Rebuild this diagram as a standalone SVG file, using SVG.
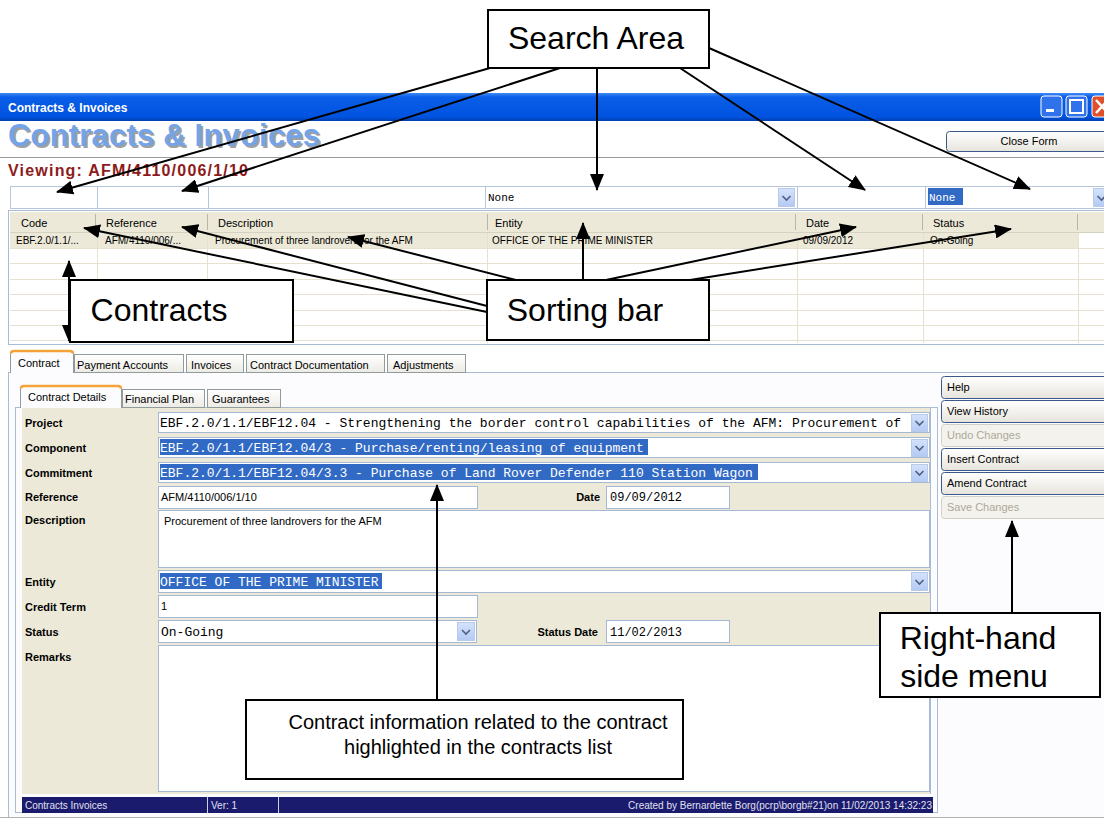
<svg xmlns="http://www.w3.org/2000/svg" width="1104" height="822" viewBox="0 0 1104 822">
<defs>
<linearGradient id="gTitle" x1="0" y1="0" x2="0" y2="1">
<stop offset="0" stop-color="#3d8af7"/><stop offset="0.15" stop-color="#0a5de6"/><stop offset="0.85" stop-color="#0053e0"/><stop offset="1" stop-color="#0040b0"/>
</linearGradient>
<linearGradient id="gBtn" x1="0" y1="0" x2="0" y2="1">
<stop offset="0" stop-color="#ffffff"/><stop offset="1" stop-color="#e6e4dc"/>
</linearGradient>
<linearGradient id="gTab" x1="0" y1="0" x2="0" y2="1">
<stop offset="0" stop-color="#ffffff"/><stop offset="1" stop-color="#ecebe5"/>
</linearGradient>
<linearGradient id="gDd" x1="0" y1="0" x2="0" y2="1">
<stop offset="0" stop-color="#d4e2fb"/><stop offset="1" stop-color="#b4caf4"/>
</linearGradient>
<marker id="ah" markerUnits="userSpaceOnUse" markerWidth="18" markerHeight="14" refX="16" refY="7" orient="auto">
<path d="M0,0 L17,7 L0,14 Z" fill="#000"/>
</marker>
<marker id="ahs" markerUnits="userSpaceOnUse" markerWidth="18" markerHeight="14" refX="1" refY="7" orient="auto">
<path d="M17,0 L0,7 L17,14 Z" fill="#000"/>
</marker>
</defs>
<style>
.ui{font-family:"Liberation Sans",Arial,sans-serif;font-size:11px;fill:#000}
.uib{font-family:"Liberation Sans",Arial,sans-serif;font-size:11px;font-weight:bold;fill:#000}
.mono{font-family:"Liberation Mono","Courier New",monospace;font-size:13px;fill:#000}
.monos{font-family:"Liberation Mono","Courier New",monospace;font-size:11px;fill:#000}
.sel{fill:#316ac5}
.selt{fill:#fff}
.inp{fill:#fff;stroke:#a5b8d4;stroke-width:1}
.dd{fill:url(#gDd);stroke:#b8cae8;stroke-width:1}
.chev{fill:none;stroke:#4d6185;stroke-width:1.6}
.tab{fill:url(#gTab);stroke:#919b9c;stroke-width:1}
.grid{stroke:#e6e2cf;stroke-width:1}
.hdrsep{stroke:#b9b6a8;stroke-width:1}
.mbtn{fill:url(#gBtn);stroke:#3a5a8c;stroke-width:1}
.mbtnd{fill:#f3f2ec;stroke:#d2d0c6;stroke-width:1}
.dis{font-family:"Liberation Sans",Arial,sans-serif;font-size:11px;fill:#aca899}
.sb{font-family:"Liberation Sans",Arial,sans-serif;font-size:10px;fill:#e0e0f0}
.cbox{fill:#fff;stroke:#000;stroke-width:2}
.ctext{font-family:"Liberation Sans",Arial,sans-serif;font-size:32px;fill:#000}
.ctext2{font-family:"Liberation Sans",Arial,sans-serif;font-size:20px;fill:#000}
.conn{stroke:#000;stroke-width:2;fill:none}
</style>

<rect x="0" y="0" width="1104" height="822" fill="#fff"/>

<g id="window">
<rect x="0" y="93" width="1104" height="28" fill="url(#gTitle)"/>
<text x="8" y="112" style="font-family:'Liberation Sans',Arial,sans-serif;font-size:12px;font-weight:bold;fill:#fff">Contracts &amp; Invoices</text>
<rect x="1041" y="96" width="21" height="21" rx="3" fill="#2f72ec" stroke="#fff" stroke-width="1"/>
<rect x="1046" y="109" width="8" height="3" fill="#fff"/>
<rect x="1066" y="96" width="21" height="21" rx="3" fill="#2f72ec" stroke="#fff" stroke-width="1"/>
<rect x="1070" y="100" width="13" height="13" fill="none" stroke="#fff" stroke-width="2"/>
<rect x="1092" y="96" width="21" height="21" rx="3" fill="#e0502a" stroke="#fff" stroke-width="1"/>
<path d="M1096,100 L1108,113 M1108,100 L1096,113" stroke="#fff" stroke-width="2.5"/>

<text x="10" y="148" style="font-family:'Liberation Sans',Arial,sans-serif;font-size:31px;font-weight:bold;fill:#a0a0a0" textLength="312">Contracts &amp; Invoices</text>
<text x="8" y="146" style="font-family:'Liberation Sans',Arial,sans-serif;font-size:31px;font-weight:bold;fill:#74a3e8" textLength="312">Contracts &amp; Invoices</text>
<rect x="946.5" y="131.5" width="170" height="20" rx="3" class="mbtn"/>
<text x="1029" y="145" class="ui" text-anchor="middle">Close Form</text>
<line x1="0" y1="157.5" x2="1104" y2="157.5" stroke="#9a9a9a" stroke-width="1.2"/>
<text x="8" y="176" style="font-family:'Liberation Sans',Arial,sans-serif;font-size:16px;font-weight:bold;fill:#8e1b1b" textLength="240">Viewing: AFM/4110/006/1/10</text>
</g>

<g id="search-row">
<rect x="10.5" y="186.5" width="1100" height="22" fill="#fff" stroke="#b7c5d8"/>
<line x1="97.5" y1="186" x2="97.5" y2="209" stroke="#b7c5d8"/>
<line x1="208.5" y1="186" x2="208.5" y2="209" stroke="#b7c5d8"/>
<line x1="485.5" y1="186" x2="485.5" y2="209" stroke="#b7c5d8"/>
<line x1="797.5" y1="186" x2="797.5" y2="209" stroke="#b7c5d8"/>
<line x1="925.5" y1="186" x2="925.5" y2="209" stroke="#b7c5d8"/>
<text x="488" y="201" class="monos">None</text>
<rect x="778.5" y="188.5" width="16" height="18" class="dd"/>
<path d="M782.5,196 L786.5,200 L790.5,196" class="chev"/>
<rect x="928" y="188" width="35" height="17" class="sel"/>
<text x="929" y="201" class="monos selt">None</text>
<rect x="1093.5" y="188.5" width="16" height="18" class="dd"/>
<path d="M1097.5,196 L1101.5,200 L1105.5,196" class="chev"/>
</g>

<g id="contracts-grid">
<rect x="8.5" y="210.5" width="1100" height="134" fill="#fff" stroke="#a9bcd6"/>
<rect x="10" y="212" width="1094" height="20" fill="#ece9d8"/>
<rect x="10" y="233" width="1068" height="15" fill="#ece9d8"/>
<line x1="10" y1="232.5" x2="1104" y2="232.5" stroke="#d6d2c2"/>
<g class="grid">
<line x1="10" y1="248.5" x2="1104" y2="248.5"/>
<line x1="10" y1="263.5" x2="1104" y2="263.5"/>
<line x1="10" y1="279.5" x2="1104" y2="279.5"/>
<line x1="10" y1="294.5" x2="1104" y2="294.5"/>
<line x1="10" y1="310.5" x2="1104" y2="310.5"/>
<line x1="10" y1="325.5" x2="1104" y2="325.5"/>
<line x1="10" y1="340.5" x2="1104" y2="340.5"/>
<line x1="97.5" y1="233" x2="97.5" y2="343"/>
<line x1="207.5" y1="233" x2="207.5" y2="343"/>
<line x1="487.5" y1="233" x2="487.5" y2="343"/>
<line x1="797.5" y1="233" x2="797.5" y2="343"/>
<line x1="923.5" y1="233" x2="923.5" y2="343"/>
<line x1="1078.5" y1="233" x2="1078.5" y2="343"/>
</g>
<g class="hdrsep">
<line x1="95.5" y1="214" x2="95.5" y2="230"/>
<line x1="207.5" y1="214" x2="207.5" y2="230"/>
<line x1="487.5" y1="214" x2="487.5" y2="230"/>
<line x1="795.5" y1="214" x2="795.5" y2="230"/>
<line x1="922.5" y1="214" x2="922.5" y2="230"/>
<line x1="1077.5" y1="214" x2="1077.5" y2="230"/>
</g>
<text x="21" y="227" class="ui">Code</text>
<text x="106" y="227" class="ui">Reference</text>
<text x="218" y="227" class="ui">Description</text>
<text x="495" y="227" class="ui">Entity</text>
<text x="806" y="227" class="ui">Date</text>
<text x="933" y="227" class="ui">Status</text>
<text x="16" y="244" style="font-family:'Liberation Sans',Arial,sans-serif;font-size:10px">EBF.2.0/1.1/...</text>
<text x="105" y="244" style="font-family:'Liberation Sans',Arial,sans-serif;font-size:10px">AFM/4110/006/...</text>
<text x="215" y="244" style="font-family:'Liberation Sans',Arial,sans-serif;font-size:10px">Procurement of three landrovers for the AFM</text>
<text x="492" y="244" style="font-family:'Liberation Sans',Arial,sans-serif;font-size:10px">OFFICE OF THE PRIME MINISTER</text>
<text x="803" y="244" style="font-family:'Liberation Sans',Arial,sans-serif;font-size:10px">09/09/2012</text>
<text x="930" y="244" style="font-family:'Liberation Sans',Arial,sans-serif;font-size:10px">On-Going</text>
</g>

<g id="tabs">
<rect x="8.5" y="372.5" width="1100" height="445" fill="#fcfcfe" stroke="#a9bcd6"/>
<rect x="74.5" y="354.5" width="109" height="18" class="tab"/>
<rect x="186.5" y="354.5" width="57" height="18" class="tab"/>
<rect x="246.5" y="354.5" width="138" height="18" class="tab"/>
<rect x="387.5" y="354.5" width="78" height="18" class="tab"/>
<path d="M10.5,373 L10.5,354 Q10.5,351.5 13,351.5 L70,351.5 Q73.5,351.5 73.5,354 L73.5,373" fill="#fcfcfe" stroke="#919b9c"/>
<path d="M11,353.5 Q11,351 14,351 L70,351 Q73,351 73,353.5" fill="none" stroke="#f3a33a" stroke-width="2.5"/>
<text x="18" y="367" class="ui">Contract</text>
<text x="77" y="369" class="ui">Payment Accounts</text>
<text x="191" y="369" class="ui">Invoices</text>
<text x="250" y="369" class="ui">Contract Documentation</text>
<text x="393" y="369" class="ui">Adjustments</text>

<rect x="15.5" y="407.5" width="922" height="405" fill="#fcfcfe" stroke="#a9bcd6"/>
<rect x="122.5" y="389.5" width="82" height="18" class="tab"/>
<rect x="207.5" y="389.5" width="73" height="18" class="tab"/>
<path d="M20.5,408 L20.5,389 Q20.5,386.5 23,386.5 L118,386.5 Q121.5,386.5 121.5,389 L121.5,408" fill="#fcfcfe" stroke="#919b9c"/>
<path d="M21,388.5 Q21,386 24,386 L118,386 Q121,386 121,388.5" fill="none" stroke="#f3a33a" stroke-width="2.5"/>
<text x="28" y="401" class="ui">Contract Details</text>
<text x="125" y="403" class="ui">Financial Plan</text>
<text x="212" y="403" class="ui">Guarantees</text>
</g>

<g id="form">
<rect x="22" y="408" width="909" height="386" fill="#ece9d8"/>
<line x1="930.5" y1="408" x2="930.5" y2="794" stroke="#a9bcd6"/>
<text x="25" y="427" class="uib">Project</text>
<text x="25" y="452" class="uib">Component</text>
<text x="25" y="477" class="uib">Commitment</text>
<text x="25" y="501" class="uib">Reference</text>
<text x="25" y="524" class="uib">Description</text>
<text x="25" y="586" class="uib">Entity</text>
<text x="25" y="611" class="uib">Credit Term</text>
<text x="25" y="636" class="uib">Status</text>
<text x="25" y="661" class="uib">Remarks</text>

<rect x="158.5" y="412.5" width="771" height="20" class="inp"/>
<text x="160" y="427" class="mono">EBF.2.0/1.1/EBF12.04 - Strengthening the border control capabilities of the AFM: Procurement of</text>
<rect x="911.5" y="414.5" width="16" height="17" class="dd"/>
<path d="M915.5,421 L919.5,425 L923.5,421" class="chev"/>

<rect x="158.5" y="437.5" width="771" height="20" class="inp"/>
<rect x="160" y="439" width="488" height="16" class="sel"/>
<text x="160" y="452" class="mono selt">EBF.2.0/1.1/EBF12.04/3 - Purchase/renting/leasing of equipment</text>
<rect x="911.5" y="439.5" width="16" height="17" class="dd"/>
<path d="M915.5,446 L919.5,450 L923.5,446" class="chev"/>

<rect x="158.5" y="462.5" width="771" height="20" class="inp"/>
<rect x="160" y="464" width="598" height="16" class="sel"/>
<text x="160" y="477" class="mono selt">EBF.2.0/1.1/EBF12.04/3.3 - Purchase of Land Rover Defender 110 Station Wagon</text>
<rect x="911.5" y="464.5" width="16" height="17" class="dd"/>
<path d="M915.5,471 L919.5,475 L923.5,471" class="chev"/>

<rect x="158.5" y="486.5" width="319" height="22" class="inp"/>
<text x="161" y="501" class="ui">AFM/4110/006/1/10</text>
<text x="600" y="501" class="uib" text-anchor="end">Date</text>
<rect x="606.5" y="486.5" width="123" height="22" class="inp"/>
<text x="610" y="501" class="monos" style="font-size:12px">09/09/2012</text>

<rect x="158.5" y="510.5" width="771" height="57" class="inp"/>
<text x="164" y="525" class="ui">Procurement of three landrovers for the AFM</text>

<rect x="158.5" y="570.5" width="771" height="22" class="inp"/>
<rect x="160" y="573" width="222" height="16" class="sel"/>
<text x="160" y="586" class="mono selt">OFFICE OF THE PRIME MINISTER</text>
<rect x="911.5" y="572.5" width="16" height="18" class="dd"/>
<path d="M915.5,580 L919.5,584 L923.5,580" class="chev"/>

<rect x="158.5" y="595.5" width="319" height="22" class="inp"/>
<text x="161" y="610" class="ui">1</text>

<rect x="158.5" y="620.5" width="318" height="22" class="inp"/>
<text x="161" y="636" class="mono">On-Going</text>
<rect x="457.5" y="622.5" width="17" height="18" class="dd"/>
<path d="M462,630 L466,634 L470,630" class="chev"/>
<text x="598" y="636" class="uib" text-anchor="end">Status Date</text>
<rect x="606.5" y="620.5" width="123" height="22" class="inp"/>
<text x="610" y="636" class="monos" style="font-size:12px">11/02/2013</text>

<rect x="158.5" y="645.5" width="771" height="146" class="inp"/>
</g>

<g id="status-bar">
<rect x="22" y="797" width="911" height="16" fill="#1b1b6e"/>
<line x1="207.5" y1="797" x2="207.5" y2="813" stroke="#d0d0e0"/>
<line x1="278.5" y1="797" x2="278.5" y2="813" stroke="#d0d0e0"/>
<text x="25" y="809" class="sb">Contracts  Invoices</text>
<text x="211" y="809" class="sb">Ver: 1</text>
<text x="932" y="809" class="sb" text-anchor="end">Created by Bernardette Borg(pcrp\borgb#21)on 11/02/2013 14:32:23</text>
<line x1="0" y1="817.5" x2="1104" y2="817.5" stroke="#b0b0b0"/>
</g>

<g id="right-menu">
<rect x="941.5" y="376.5" width="170" height="22" rx="3" class="mbtn"/>
<text x="947" y="391" class="ui">Help</text>
<rect x="941.5" y="400.5" width="170" height="22" rx="3" class="mbtn"/>
<text x="947" y="415" class="ui">View History</text>
<rect x="941.5" y="424.5" width="170" height="22" rx="3" class="mbtnd"/>
<text x="947" y="439" class="dis">Undo Changes</text>
<rect x="941.5" y="448.5" width="170" height="22" rx="3" class="mbtn"/>
<text x="947" y="463" class="ui">Insert Contract</text>
<rect x="941.5" y="472.5" width="170" height="22" rx="3" class="mbtn"/>
<text x="947" y="487" class="ui">Amend Contract</text>
<rect x="941.5" y="496.5" width="170" height="22" rx="3" class="mbtnd"/>
<text x="947" y="511" class="dis">Save Changes</text>
</g>

<g id="connectors">
<line x1="490" y1="68" x2="57" y2="192" class="conn" marker-end="url(#ah)"/>
<line x1="560" y1="68" x2="182" y2="191" class="conn" marker-end="url(#ah)"/>
<line x1="597" y1="68" x2="597" y2="190" class="conn" marker-end="url(#ah)"/>
<line x1="680" y1="68" x2="865" y2="190" class="conn" marker-end="url(#ah)"/>
<line x1="709" y1="48" x2="1030" y2="189" class="conn" marker-end="url(#ah)"/>
<line x1="487" y1="312" x2="84" y2="228" class="conn" marker-end="url(#ah)"/>
<line x1="487" y1="306" x2="182" y2="227" class="conn" marker-end="url(#ah)"/>
<line x1="516" y1="280" x2="348" y2="237" class="conn" marker-end="url(#ah)"/>
<line x1="583" y1="280" x2="583" y2="223" class="conn" marker-end="url(#ah)"/>
<line x1="606" y1="280" x2="856" y2="227" class="conn" marker-end="url(#ah)"/>
<line x1="690" y1="280" x2="1011" y2="229" class="conn" marker-end="url(#ah)"/>
<line x1="69" y1="261" x2="69" y2="341" class="conn" marker-start="url(#ahs)" marker-end="url(#ah)"/>
<line x1="437" y1="700" x2="437" y2="485" class="conn" marker-end="url(#ah)"/>
<line x1="1012" y1="613" x2="1012" y2="521" class="conn" marker-end="url(#ah)"/>
</g>

<g id="search-area">
<rect x="488" y="10" width="221" height="58" class="cbox"/>
<text x="596" y="49" class="ctext" text-anchor="middle">Search Area</text>
</g>
<g id="contracts-callout">
<rect x="70" y="280" width="223" height="62" class="cbox"/>
<text x="159" y="321" class="ctext" text-anchor="middle">Contracts</text>
</g>
<g id="sorting-bar">
<rect x="487" y="280" width="222" height="60" class="cbox"/>
<text x="585" y="321" class="ctext" text-anchor="middle">Sorting bar</text>
</g>
<g id="right-hand-menu-callout">
<rect x="880" y="613" width="220" height="84" class="cbox"/>
<text x="978" y="649" class="ctext" text-anchor="middle">Right-hand</text>
<text x="974" y="687" class="ctext" text-anchor="middle">side menu</text>
</g>
<g id="contract-info-callout">
<rect x="246" y="700" width="437" height="79" class="cbox"/>
<text x="478" y="729" class="ctext2" text-anchor="middle">Contract information related to the contract</text>
<text x="478" y="754" class="ctext2" text-anchor="middle">highlighted in the contracts list</text>
</g>
</svg>
